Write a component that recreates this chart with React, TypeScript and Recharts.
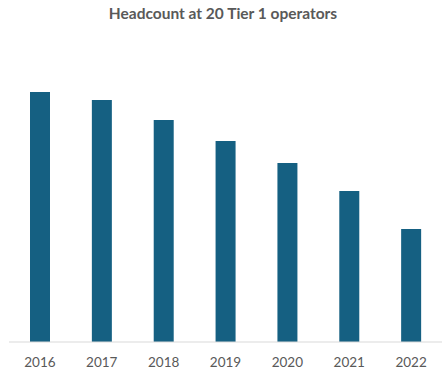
import React from 'react';
import { BarChart, Bar, XAxis, YAxis } from 'recharts';

// values (relative headcount units, no y-axis shown)
const years = ['2016', '2017', '2018', '2019', '2020', '2021', '2022'];
const headcount = [250, 242, 222, 201, 179, 151, 113];

const chartData = years.map((year, i) => ({ year, headcount: headcount[i] }));

const App: React.FC = () => {
    return (
        <div style={{ position: 'absolute', left: 0, top: 0, width: 446, height: 372, background: '#fff' }}>
            <div
                style={{
                    position: 'absolute',
                    top: 4,
                    left: 0,
                    width: 446,
                    textAlign: 'center',
                    fontFamily: 'Lato, sans-serif',
                    fontWeight: 'bold',
                    fontSize: 15.5,
                    color: '#595959'
                }}
            >
                Headcount at 20 Tier 1 operators
            </div>
            <BarChart
                width={446}
                height={372}
                data={chartData}
                margin={{ top: 42, right: 4, left: 9, bottom: 0 }}
            >
                <YAxis hide domain={[0, 300]} />
                <XAxis
                    dataKey="year"
                    height={30}
                    tickLine={false}
                    tickSize={0}
                    tickMargin={15}
                    axisLine={{ stroke: '#d9d9d9', strokeWidth: 1 }}
                    tick={{ fill: '#595959', fontSize: 13.5, fontFamily: 'Lato, sans-serif' }}
                />
                <Bar dataKey="headcount" fill="#156082" barSize={20} isAnimationActive={false} />
            </BarChart>
        </div>
    );
};

export default App;
